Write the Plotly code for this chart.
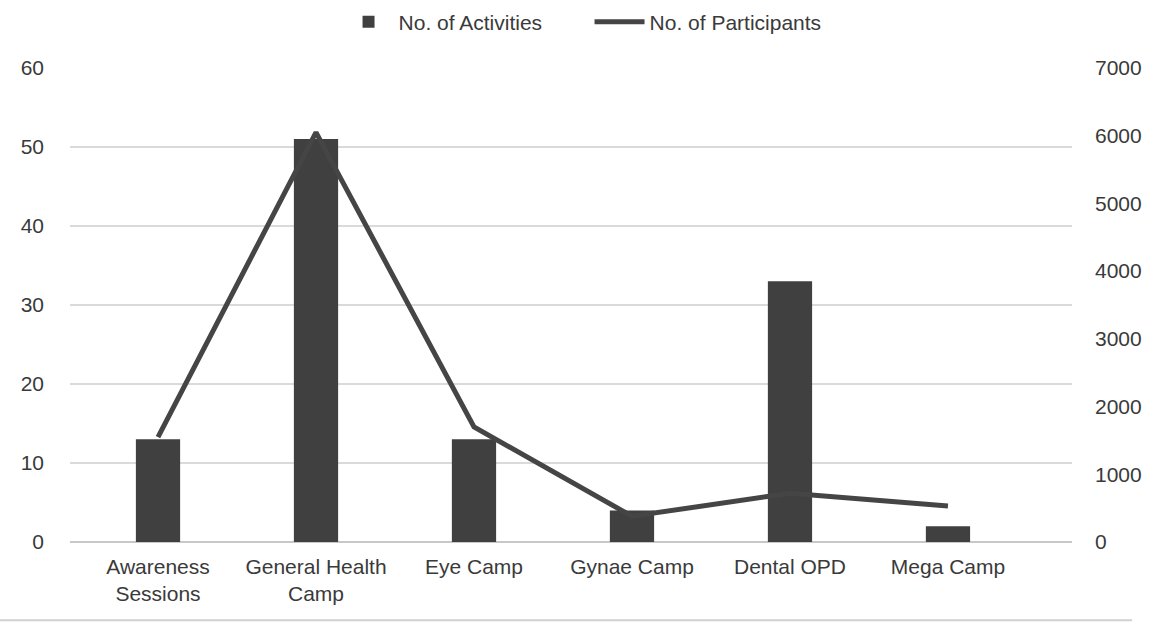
import plotly.graph_objects as go

# Health programme summary
categories = ["Awareness<br>Sessions", "General Health<br>Camp", "Eye Camp",
              "Gynae Camp", "Dental OPD", "Mega Camp"]
activities = [13, 51, 13, 4, 33, 2]
participants = [1550, 6050, 1700, 380, 720, 530]

left_ticks = [0, 10, 20, 30, 40, 50, 60]
right_ticks = [0, 1000, 2000, 3000, 4000, 5000, 6000, 7000]

font_family = "Liberation Sans, Arial, sans-serif"
text_color = "#3a3a3a"

fig = go.Figure()
fig.add_trace(go.Bar(
    x=categories, y=activities, name="No. of Activities",
    marker=dict(color="#404040", line=dict(width=0)),
    width=0.28, yaxis="y",
))
fig.add_trace(go.Scatter(
    x=categories, y=participants, name="No. of Participants",
    mode="lines", line=dict(color="#454545", width=5),
    yaxis="y2",
))

fig.update_layout(
    width=1153, height=623,
    margin=dict(l=70, r=81, t=68, b=81, autoexpand=False),
    paper_bgcolor="white", plot_bgcolor="white",
    font=dict(family=font_family, size=21, color=text_color),
    showlegend=True,
    legend=dict(orientation="h", x=0.268, xanchor="left", y=1.097, yanchor="middle",
                font=dict(size=21, color=text_color), itemwidth=50,
                entrywidth=186, entrywidthmode="pixels",
                traceorder="normal"),
    xaxis=dict(range=[-0.557, 5.785], showgrid=False, showline=False, ticks="",
               tickfont=dict(size=21), ticklabelstandoff=10),
    yaxis=dict(range=[0, 60], tickvals=left_ticks, showgrid=True,
               gridcolor="#dadada", gridwidth=1.5, zeroline=True,
               zerolinecolor="#c8c8c8", zerolinewidth=2, showline=False,
               ticks="", ticklabelstandoff=25, tickfont=dict(size=21)),
    yaxis2=dict(range=[0, 7000], tickvals=right_ticks, overlaying="y",
                side="right", showgrid=False, zeroline=False, showline=False,
                ticks="", ticklabelstandoff=22, tickfont=dict(size=21)),
)

# Bottom frame line of the chart area
fig.add_shape(type="line", xref="paper", yref="paper", x0=-0.07, x1=1.06,
              y0=-0.165, y1=-0.165, line=dict(color="#d0d0d0", width=2))

fig.write_html("out.html")
